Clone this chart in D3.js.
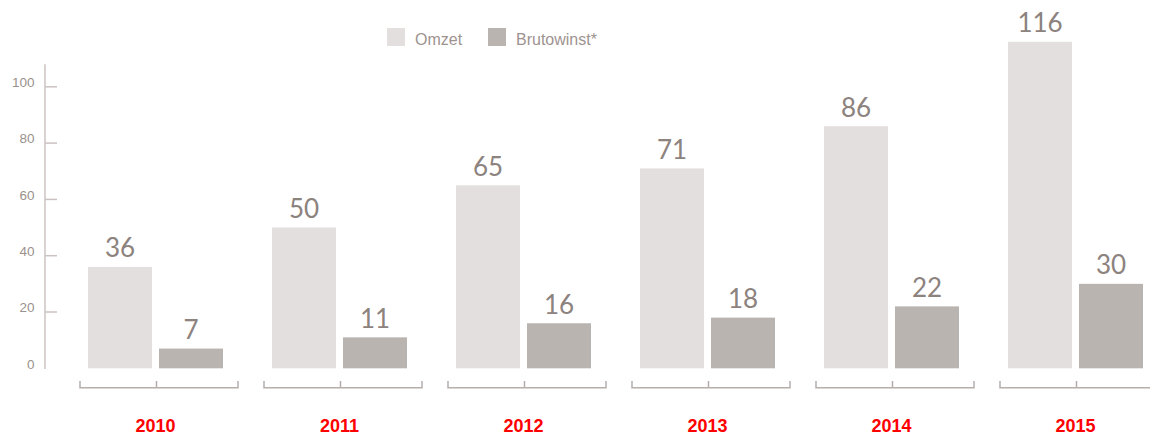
<!DOCTYPE html>
<html>
<head>
<meta charset="utf-8">
<script src="https://cdn.jsdelivr.net/npm/d3@7"></script>
<style>
  html, body { margin: 0; padding: 0; background: #fff; }
  svg { display: block; }
</style>
</head>
<body>
<svg id="chart" width="1150" height="436"></svg>
<script>
const years = ["2010", "2011", "2012", "2013", "2014", "2015"];
const seriesNames = ["Omzet", "Brutowinst*"];
const omzet = [36, 50, 65, 71, 86, 116];
const brutowinst = [7, 11, 16, 18, 22, 30];
const yTicks = [0, 20, 40, 60, 80, 100];
const colors = ["#e3dfde", "#b9b4b0"];

const svg = d3.select("#chart");

const x = d3.scalePoint().domain(years).range([155.5, 1075.5]);
const xInner = d3.scaleBand().domain(seriesNames).range([-67.5, 67.5]).paddingInner(7 / 71);
const y = d3.scaleLinear().domain([0, 100]).range([368.3, 86.8]);

// Y axis
const yAxisG = svg.append("g").attr("transform", "translate(45,0)");
yAxisG.append("line")
  .attr("x1", 0).attr("x2", 0)
  .attr("y1", 64.3).attr("y2", 369)
  .attr("stroke", "#cbc3c1").attr("stroke-width", 1.5);
yAxisG.selectAll("line.tick").data(yTicks.filter(d => d > 0)).join("line")
  .attr("class", "tick")
  .attr("x1", 0).attr("x2", 12)
  .attr("y1", d => y(d)).attr("y2", d => y(d))
  .attr("stroke", "#cbc3c1").attr("stroke-width", 1.5);
yAxisG.selectAll("text").data(yTicks).join("text")
  .attr("x", -10.5)
  .attr("y", d => y(d) + 0.2)
  .attr("text-anchor", "end")
  .attr("font-family", "Arial, 'Liberation Sans', sans-serif")
  .attr("font-size", 13.5)
  .attr("fill", "#9a918d")
  .text(d => d);

// Bars
const data = years.map((yr, i) => ({ year: yr, values: [omzet[i], brutowinst[i]] }));
const groups = svg.selectAll("g.grp").data(data).join("g")
  .attr("class", "grp")
  .attr("transform", d => `translate(${x(d.year)},0)`);

groups.selectAll("rect").data(d => d.values.map((v, j) => ({ name: seriesNames[j], v, j }))).join("rect")
  .attr("x", d => xInner(d.name))
  .attr("width", xInner.bandwidth())
  .attr("y", d => y(d.v))
  .attr("height", d => y(0) - y(d.v))
  .attr("fill", d => colors[d.j]);

groups.selectAll("text.val").data(d => d.values.map((v, j) => ({ name: seriesNames[j], v, j }))).join("text")
  .attr("class", "val")
  .attr("x", d => xInner(d.name) + xInner.bandwidth() / 2)
  .attr("y", d => y(d.v) - 9.5)
  .attr("text-anchor", "middle")
  .attr("font-family", "Lato, 'Open Sans', sans-serif")
  .attr("font-size", 26)
  .attr("fill", "#8c827e")
  .text(d => d.v);

// Bottom brackets
const br = groups.append("g").attr("class", "bracket");
br.append("path")
  .attr("d", "M-75.5,381V387.7H82.5V381M1,381V387.7")
  .attr("fill", "none")
  .attr("stroke", "#b5aeab").attr("stroke-width", 1.5);

// Year labels
groups.append("text")
  .attr("x", 0)
  .attr("y", 432)
  .attr("text-anchor", "middle")
  .attr("font-family", "Arial, 'Liberation Sans', sans-serif")
  .attr("font-weight", "bold")
  .attr("font-size", 18)
  .attr("fill", "#ff0000")
  .text(d => d.year);

// Legend
const legendX = [387, 488];
const lg = svg.selectAll("g.leg").data(seriesNames).join("g")
  .attr("class", "leg")
  .attr("transform", (d, i) => `translate(${legendX[i]},28)`);
lg.append("rect").attr("width", 18).attr("height", 18).attr("fill", (d, i) => colors[i]);
lg.append("text")
  .attr("x", 28).attr("y", 17)
  .attr("font-family", "Arial, 'Liberation Sans', sans-serif")
  .attr("font-size", 16)
  .attr("fill", "#9d9390")
  .text(d => d);
</script>
</body>
</html>
